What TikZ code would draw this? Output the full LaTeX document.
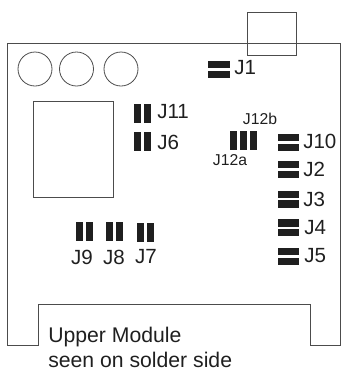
\documentclass[tikz,border=0pt]{standalone}
\usepackage{fontspec}
\setmainfont{Liberation Sans}
\definecolor{boardline}{gray}{0.3}
\definecolor{pinblack}{gray}{0.12}
\tikzset{
    outline/.style={draw=boardline,line width=0.75pt},
    pinbar/.style={fill=pinblack},
    jlabel/.style={inner sep=0pt,text=pinblack,font=\fontsize{15.4}{18}\selectfont},
    jsmall/.style={inner sep=0pt,text=pinblack,font=\fontsize{11.8}{14}\selectfont},
    jcaption/.style={inner sep=0pt,text=pinblack,font=\fontsize{15.9}{18}\selectfont},
}
\begin{document}
\begin{tikzpicture}[x=0.75pt,y=-0.75pt]
    \useasboundingbox(0,0)rectangle(341,369);
    % board
    \draw[outline](38.5,345)--(8,345)--(8,43.5)--(340.5,43.5)--(340.5,345)--(311,345)--(311,304)--(38.5,304)--cycle;
    \draw[outline](248,12)rectangle(296.5,55.5);
    \draw[outline](34,101)rectangle(113.5,197.5);
    \foreach \cx in {35,76.5,121}
        \draw[outline,line width=0.6pt](\cx,69)circle(17);

    % horizontal pin pairs
    \foreach \xa/\ya in {208.5/61,278/134,278/161,278/190.5,278/219.3,278/247.7}{
        \fill[pinbar](\xa,\ya)rectangle(\xa+21.5,\ya+7.3);
        \fill[pinbar](\xa,\ya+9.8)rectangle(\xa+21.5,\ya+17.1);
    }
    % vertical pin pairs
    \foreach \xa/\ya in {134/104.3,134/131.8,76/221.7,106/221.7,137/222.7}{
        \fill[pinbar](\xa,\ya)rectangle(\xa+7.3,\ya+19);
        \fill[pinbar](\xa+9.8,\ya)rectangle(\xa+17.1,\ya+19);
    }
    % J12 block
    \foreach \xa in {230,240,250}
        \fill[pinbar](\xa,131)rectangle(\xa+7.3,150);

    \node[jlabel,anchor=west](j1)at(234,68){J1};
    \node[jlabel,anchor=west](j10)at(303,141){J10};
    \node[jlabel,anchor=west](j2)at(303,169.5){J2};
    \node[jlabel,anchor=west](j3)at(303,199.5){J3};
    \node[jlabel,anchor=west](j4)at(304,228){J4};
    \node[jlabel,anchor=west](j5)at(304,256){J5};
    \node[jlabel,anchor=west](j11)at(157,112){J11};
    \node[jlabel,anchor=west](j6)at(157,142){J6};
    \node[jlabel](j9)at(82,257){J9};
    \node[jlabel](j8)at(114,257){J8};
    \node[jlabel](j7)at(146,257){J7};
    \node[jsmall](j12b)at(260,119){J12b};
    \node[jsmall](j12a)at(230,160.5){J12a};
    \node[jcaption,anchor=base west](upper)at(48,342){Upper Module};
    \node[jcaption,anchor=base west](solder)at(48,367){seen on solder side};
\end{tikzpicture}
\end{document}
